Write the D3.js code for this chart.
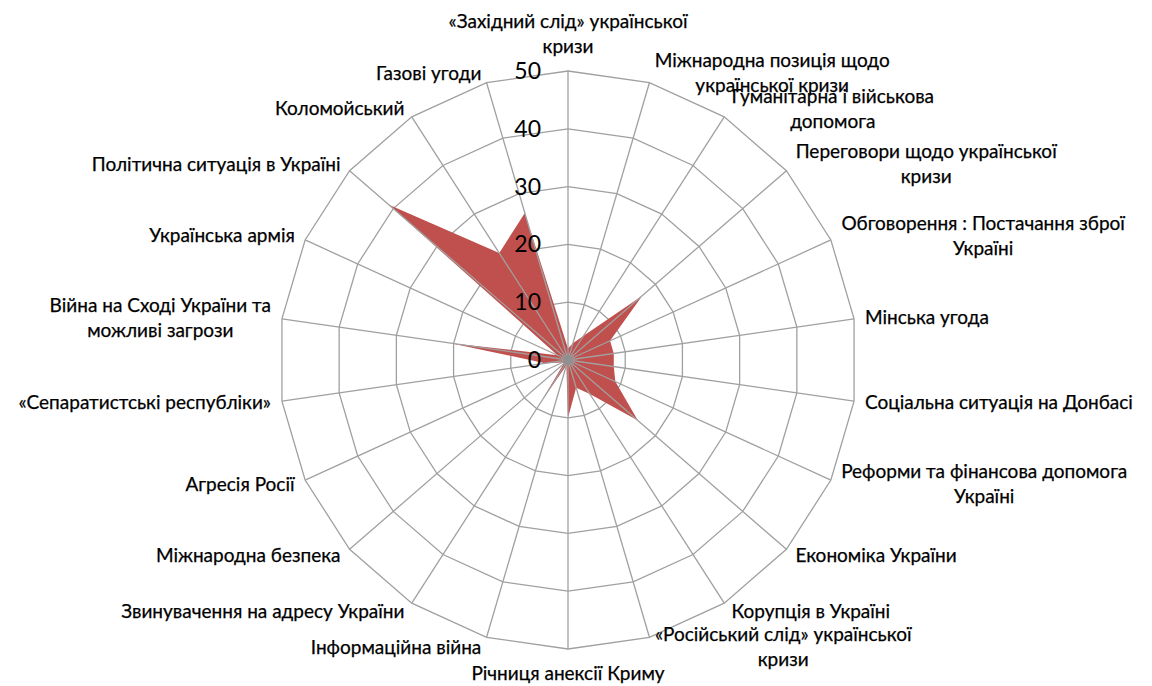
<html>
<head>
  <script src="https://d3js.org/d3.v7.min.js"></script>
  <style>
    body{ margin:0; background:#fff; }
    svg{ display:block; }
    text{ font-family: Lato, "Open Sans", sans-serif; fill:#000; }
    .cat{ stroke:#000; stroke-width:0.25px; }
  </style>
</head>
<body>
  <script type="text/javascript">
    // categories clockwise from the top, split into label lines
    var categories = [
      ["«Західний слід» української", "кризи"],
      ["Міжнародна позиція щодо", "української кризи"],
      ["Гуманітарна і військова", "допомога"],
      ["Переговори щодо української", "кризи"],
      ["Обговорення : Постачання зброї", "Україні"],
      ["Мінська угода"],
      ["Соціальна ситуація на Донбасі"],
      ["Реформи та фінансова допомога", "Україні"],
      ["Економіка України"],
      ["Корупція в Україні"],
      ["«Російський слід» української", "кризи"],
      ["Річниця анексії Криму"],
      ["Інформаційна війна"],
      ["Звинувачення на адресу України"],
      ["Міжнародна безпека"],
      ["Агресія Росії"],
      ["«Сепаратистські республіки»"],
      ["Війна на Сході України та", "можливі загрози"],
      ["Українська армія"],
      ["Політична ситуація в Україні"],
      ["Коломойський"],
      ["Газові угоди"]
    ];
    var values = [2, 3, 5, 17, 8, 8, 8, 9, 16, 7, 5, 10, 1, 8.5, 1, 1, 4, 20.5, 2, 41, 22, 26.5];
    var ticks = [0, 10, 20, 30, 40, 50];

    var width = 1152, height = 686;
    var cx = 568, cy = 360, radius = 289;
    var lineH = 25;
    var n = categories.length;

    var rScale = d3.scaleLinear().domain([0, 50]).range([0, radius]);
    var aScale = d3.scaleLinear().domain([0, n]).range([0, 2 * Math.PI]);

    var svg = d3.select("body").append("svg")
      .attr("width", width)
      .attr("height", height);
    var g = svg.append("g").attr("transform", "translate(" + cx + "," + cy + ")");

    // rings
    var ring = d3.lineRadial()
      .angle(function(d, i){ return aScale(i); })
      .radius(function(d){ return rScale(d); })
      .curve(d3.curveLinearClosed);

    g.selectAll(".ring")
      .data(ticks.slice(1))
      .enter()
      .append("path")
      .attr("class", "ring")
      .attr("d", function(t){ return ring(categories.map(function(){ return t; })); })
      .attr("fill", "none")
      .attr("stroke", "#a0a0a0")
      .attr("stroke-width", 1.3);

    // series area
    g.append("path")
      .datum(values)
      .attr("d", ring)
      .attr("fill", "#c0504d");

    // spokes
    g.selectAll(".spoke")
      .data(categories)
      .enter()
      .append("line")
      .attr("class", "spoke")
      .attr("x1", 0).attr("y1", 0)
      .attr("x2", function(d, i){ return Math.sin(aScale(i)) * rScale(50); })
      .attr("y2", function(d, i){ return -Math.cos(aScale(i)) * rScale(50); })
      .attr("stroke", "#a0a0a0")
      .attr("stroke-width", 1.3);

    // gray hub where spokes meet
    g.append("circle").attr("r", 5).attr("fill", "#909090");

    // tick labels
    g.selectAll(".tick")
      .data(ticks)
      .enter()
      .append("text")
      .attr("class", "tick")
      .attr("x", -27)
      .attr("y", function(d){ return -rScale(d); })
      .attr("dy", "0.35em")
      .attr("text-anchor", "end")
      .style("font-size", "23px")
      .text(function(d){ return d; });

    // category labels
    categories.forEach(function(lines, i){
      var a = aScale(i);
      var s = Math.sin(a), c = Math.cos(a);
      var ex = s * rScale(50), ey = -c * rScale(50);
      var lab = g.append("g");
      var t = lab.append("text")
        .attr("class", "cat")
        .attr("text-anchor", "middle")
        .style("font-size", "19px");
      t.selectAll("tspan")
        .data(lines)
        .enter()
        .append("tspan")
        .attr("x", 0)
        .attr("y", function(d, k){ return (k - (lines.length - 1) / 2) * lineH; })
        .attr("dy", "0.35em")
        .text(function(d){ return d; });
      var w = t.node().getBBox().width;
      var bh = lines.length * lineH;
      var x, y;
      if (Math.abs(s) < 0.01) {
        x = ex;
        y = c > 0 ? ey - 12 - bh / 2 : ey + 12 + bh / 2;
      } else {
        var gap = 3 + 8 * Math.abs(s);
        x = s > 0 ? ex + gap + w / 2 : ex - gap - w / 2;
        y = ey - c * 10;
      }
      lab.attr("transform", "translate(" + x + "," + y + ")");
    });
  </script>
</body>
</html>
